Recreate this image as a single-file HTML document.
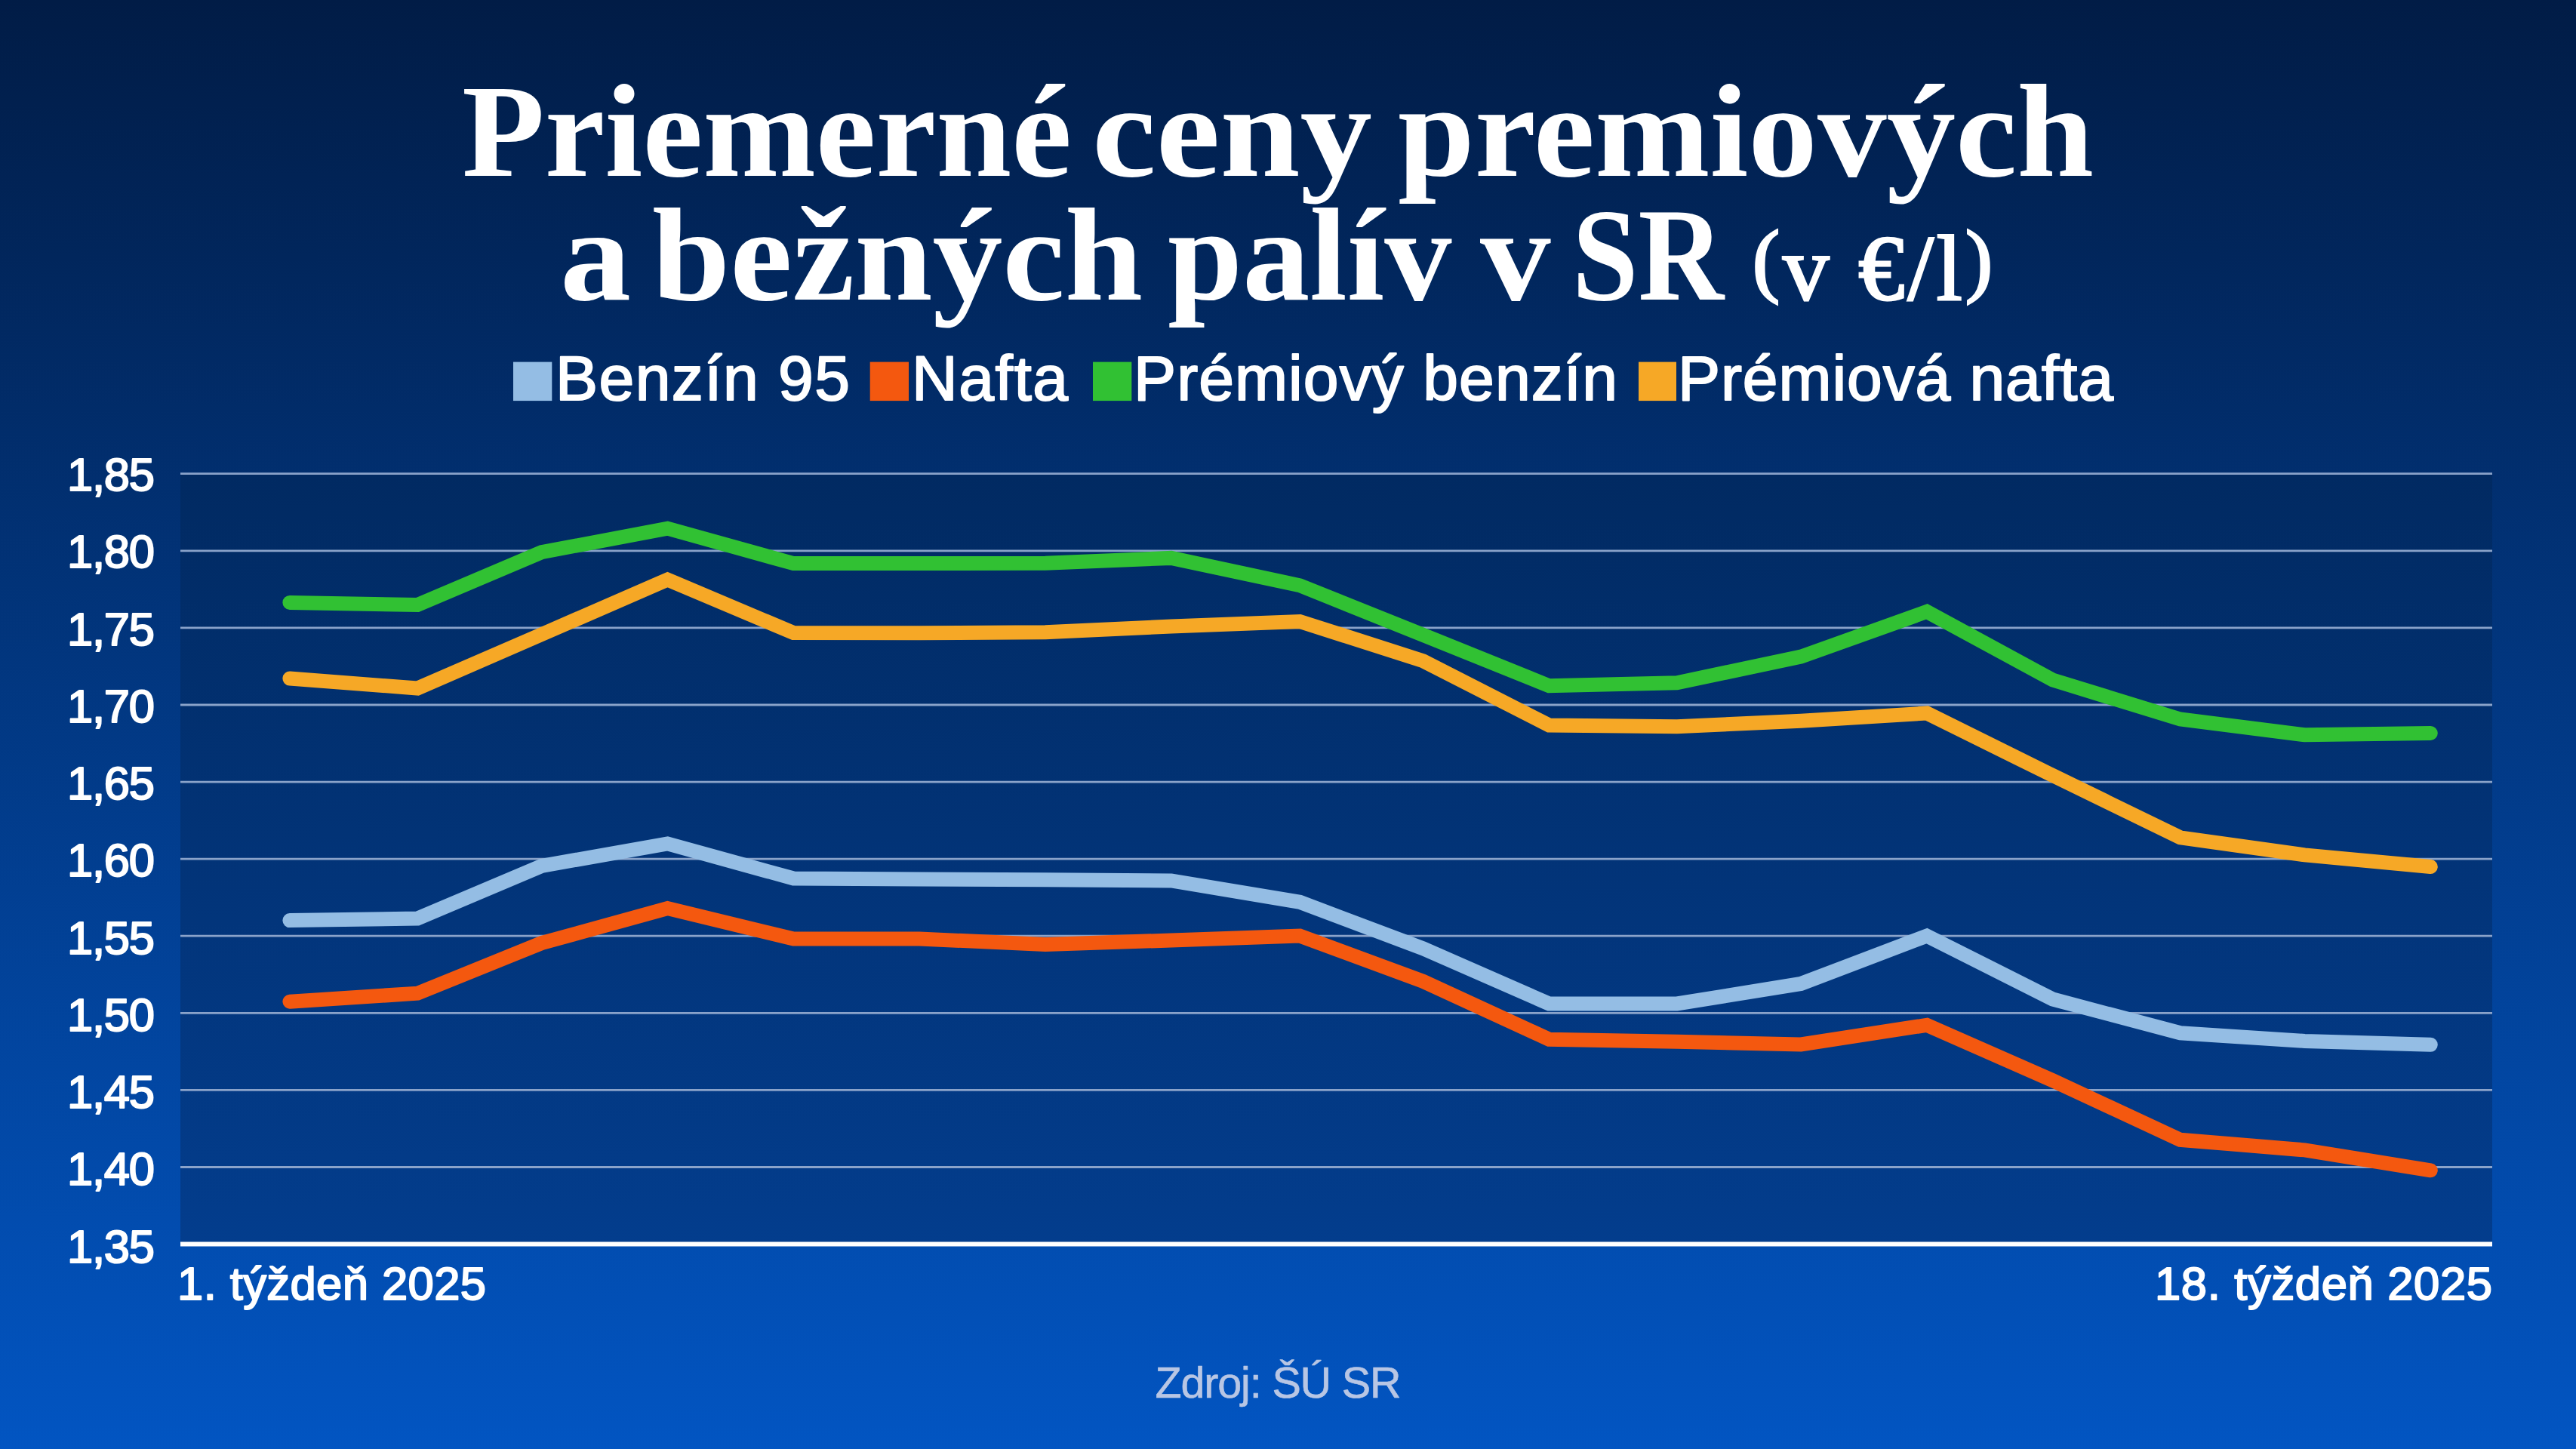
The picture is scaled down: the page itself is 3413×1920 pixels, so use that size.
<!DOCTYPE html>
<html><head><meta charset="utf-8"><style>
html,body{margin:0;padding:0;width:3413px;height:1920px;overflow:hidden;background:#0a3a8a}
svg{display:block}
.t{font-family:"Liberation Serif",serif;font-weight:700;fill:#fff}
.s{font-family:"Liberation Sans",sans-serif;fill:#fff;stroke:#fff;stroke-linejoin:round}
</style></head><body>
<svg width="3413" height="1920" viewBox="0 0 3413 1920">
<defs>
<linearGradient id="bg" x1="0" y1="0" x2="0" y2="1">
<stop offset="0" stop-color="#011c46"/>
<stop offset="1" stop-color="#0255c2"/>
</linearGradient>
<linearGradient id="pa" x1="0" y1="0" x2="0" y2="1">
<stop offset="0" stop-color="#012a62"/>
<stop offset="1" stop-color="#033d8d"/>
</linearGradient>
</defs>
<rect x="0" y="0" width="3413" height="1920" fill="url(#bg)"/>
<rect x="239" y="628" width="3063" height="1020" fill="url(#pa)"/>
<g stroke="#8aa3ca" stroke-width="2.8"><line x1="239" x2="3302" y1="627.7" y2="627.7"/><line x1="239" x2="3302" y1="729.8" y2="729.8"/><line x1="239" x2="3302" y1="831.9" y2="831.9"/><line x1="239" x2="3302" y1="934.0" y2="934.0"/><line x1="239" x2="3302" y1="1036.1" y2="1036.1"/><line x1="239" x2="3302" y1="1138.2" y2="1138.2"/><line x1="239" x2="3302" y1="1240.2" y2="1240.2"/><line x1="239" x2="3302" y1="1342.3" y2="1342.3"/><line x1="239" x2="3302" y1="1444.4" y2="1444.4"/><line x1="239" x2="3302" y1="1546.5" y2="1546.5"/></g>
<line x1="239" x2="3302" y1="1648.6" y2="1648.6" stroke="#fff" stroke-width="6"/>
<g fill="none" stroke-width="19" stroke-linecap="round" stroke-linejoin="miter" stroke-miterlimit="10">
<polyline stroke="#94bde4" points="383.9,1219.6 553.2,1217.1 717.6,1147.4 884.4,1117.9 1051.3,1164.0 1218.2,1165.0 1385.0,1165.8 1551.8,1167.0 1722.2,1195.3 1885.5,1256.8 2052.4,1330.0 2221.8,1330.0 2386.1,1303.5 2552.9,1240.0 2719.8,1324.0 2888.7,1368.8 3053.5,1379.4 3220.3,1384.3"/>
<polyline stroke="#f4580f" points="383.9,1327.2 553.2,1316.2 717.6,1249.6 884.4,1203.5 1051.3,1244.0 1218.2,1244.0 1385.0,1251.4 1551.8,1246.0 1722.2,1240.1 1885.5,1300.3 2052.4,1377.2 2221.8,1380.3 2386.1,1384.0 2552.9,1358.3 2719.8,1431.8 2888.7,1510.3 3053.5,1523.9 3220.3,1550.8"/>
<polyline stroke="#31c133" points="383.9,798.4 553.2,801.5 717.6,731.7 884.4,700.2 1051.3,746.6 1218.2,746.6 1385.0,746.3 1551.8,739.4 1722.2,775.8 1885.5,841.4 2052.4,908.8 2221.8,904.7 2386.1,870.1 2552.9,810.4 2719.8,901.0 2888.7,953.0 3053.5,973.8 3220.3,971.5"/>
<polyline stroke="#f6a826" points="383.9,899.0 553.2,912.0 717.6,840.6 884.4,768.0 1051.3,838.6 1218.2,838.8 1385.0,837.8 1551.8,830.0 1722.2,823.5 1885.5,875.7 2052.4,961.0 2221.8,962.8 2386.1,955.2 2552.9,945.0 2719.8,1027.6 2888.7,1109.8 3053.5,1132.9 3220.3,1148.5"/>
</g>
<text class="t" x="612.00" y="232.5" font-size="176" textLength="808.00" lengthAdjust="spacingAndGlyphs">Priemerné</text><text class="t" x="1447.00" y="232.5" font-size="176" textLength="371.00" lengthAdjust="spacingAndGlyphs">ceny</text><text class="t" x="1852.00" y="232.5" font-size="176" textLength="922.00" lengthAdjust="spacingAndGlyphs">premiových</text><text class="t" x="742.00" y="397.3" font-size="176" textLength="94.00" lengthAdjust="spacingAndGlyphs">a</text><text class="t" x="864.00" y="397.3" font-size="176" textLength="650.00" lengthAdjust="spacingAndGlyphs">bežných</text><text class="t" x="1547.00" y="397.3" font-size="176" textLength="376.50" lengthAdjust="spacingAndGlyphs">palív</text><text class="t" x="1961.00" y="397.3" font-size="176" textLength="93.50" lengthAdjust="spacingAndGlyphs">v</text><text class="t" x="2083.00" y="397.3" font-size="176" textLength="201.00" lengthAdjust="spacingAndGlyphs">SR</text>
<text x="2322" y="396.5" font-family="Liberation Serif" font-size="122" fill="#fff" stroke="#fff" stroke-width="3" textLength="318" lengthAdjust="spacing"><tspan font-size="108" dy="-17">(</tspan><tspan dy="17">v €/l</tspan><tspan font-size="108" dy="-17">)</tspan></text>
<g class="s" font-size="84" stroke-width="2">
<rect x="680" y="479.6" width="51.3" height="51.5" fill="#94bde4" stroke="none"/>
<text x="736" y="529.8" textLength="390" lengthAdjust="spacing">Benzín 95</text>
<rect x="1152.7" y="479.6" width="51.3" height="51.5" fill="#f4580f" stroke="none"/>
<text x="1208" y="529.8" textLength="207" lengthAdjust="spacing">Nafta</text>
<rect x="1448" y="479.6" width="51.3" height="51.5" fill="#31c133" stroke="none"/>
<text x="1502" y="529.8" textLength="641" lengthAdjust="spacing">Prémiový benzín</text>
<rect x="2171" y="479.6" width="50" height="51.5" fill="#f6a826" stroke="none"/>
<text x="2223" y="529.8" textLength="577" lengthAdjust="spacing">Prémiová nafta</text>
</g>
<g class="s" font-size="61.5" stroke-width="2" text-anchor="end"><text x="205" y="650.2" textLength="116" lengthAdjust="spacing">1,85</text><text x="205" y="752.4" textLength="116" lengthAdjust="spacing">1,80</text><text x="205" y="854.7" textLength="116" lengthAdjust="spacing">1,75</text><text x="205" y="956.9" textLength="116" lengthAdjust="spacing">1,70</text><text x="205" y="1059.2" textLength="116" lengthAdjust="spacing">1,65</text><text x="205" y="1161.4" textLength="116" lengthAdjust="spacing">1,60</text><text x="205" y="1263.6" textLength="116" lengthAdjust="spacing">1,55</text><text x="205" y="1365.9" textLength="116" lengthAdjust="spacing">1,50</text><text x="205" y="1468.1" textLength="116" lengthAdjust="spacing">1,45</text><text x="205" y="1570.4" textLength="116" lengthAdjust="spacing">1,40</text><text x="205" y="1672.6" textLength="116" lengthAdjust="spacing">1,35</text></g>
<text class="s" x="235" y="1721.5" font-size="61.5" stroke-width="2" textLength="409" lengthAdjust="spacing">1. týždeň 2025</text>
<text class="s" x="2855" y="1721.5" font-size="61.5" stroke-width="2" textLength="447" lengthAdjust="spacing">18. týždeň 2025</text>
<text class="s" x="1530.5" y="1851.8" font-size="57.5" stroke-width="0.6" textLength="326" lengthAdjust="spacing" style="fill:#b8c6e4;stroke:#b8c6e4">Zdroj: ŠÚ SR</text>
</svg>
</body></html>
